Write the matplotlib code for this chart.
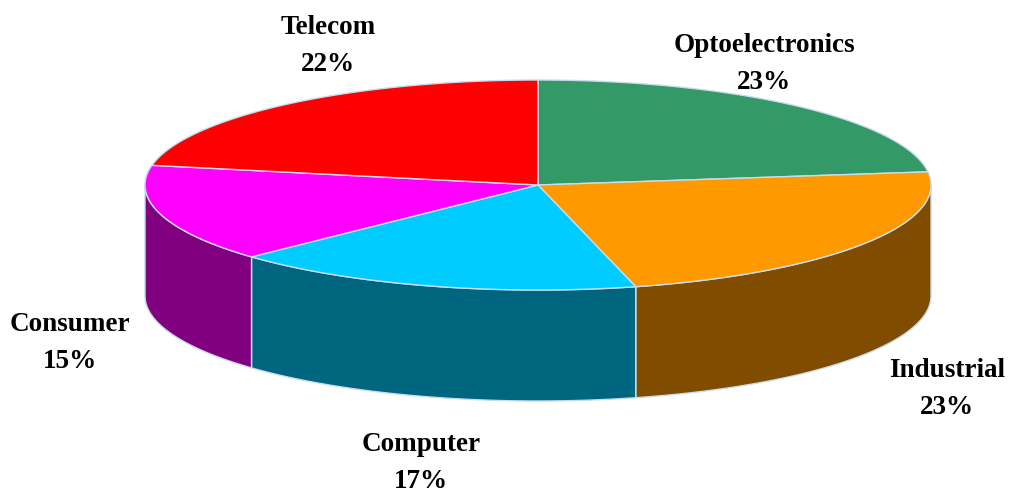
#!/usr/bin/env python3
import numpy as np
import matplotlib
matplotlib.use("Agg")
import matplotlib.pyplot as plt
from matplotlib.patches import Polygon

labels = ['Optoelectronics', 'Industrial', 'Computer', 'Consumer', 'Telecom']
sizes = [23, 23, 17, 15, 22]
colors = ['#339966', '#FF9900', '#00CCFF', '#FF00FF', '#FF0000']
# label anchor (x, y) in pixels, centre of the two-line block
label_pos = [(764, 64), (947, 389), (421, 463), (70, 343), (328, 46)]

cx, cy = 538, 185      # centre of top ellipse
a, b = 393, 105        # semi axes
depth = 111
edge = '#C8DCF0'


def darker(c):
    rgb = np.array(matplotlib.colors.to_rgb(c))
    return tuple(rgb * 0.5)


def pt(theta, dy=0):
    # theta in degrees, clockwise from 12 o'clock
    t = np.radians(theta)
    return cx + a * np.sin(t), cy - b * np.cos(t) + dy


fig = plt.figure(figsize=(10.11, 4.93), dpi=100)
ax = fig.add_axes([0, 0, 1, 1])
ax.set_xlim(0, 1011)
ax.set_ylim(493, 0)
ax.axis('off')

fracs = np.array(sizes) / sum(sizes)
bounds = np.concatenate([[0], np.cumsum(fracs) * 360])

# side walls (front half only: 90..270 deg)
for i in range(len(sizes)):
    t0, t1 = max(bounds[i], 90), min(bounds[i + 1], 270)
    if t1 <= t0:
        continue
    th = np.linspace(t0, t1, 100)
    top = [pt(t) for t in th]
    bot = [pt(t, depth) for t in th[::-1]]
    ax.add_patch(Polygon(top + bot, closed=True, facecolor=darker(colors[i]),
                         edgecolor=edge, linewidth=1))

# top wedges
for i in range(len(sizes)):
    th = np.linspace(bounds[i], bounds[i + 1], 200)
    verts = [(cx, cy)] + [pt(t) for t in th]
    ax.add_patch(Polygon(verts, closed=True, facecolor=colors[i],
                         edgecolor=edge, linewidth=1))

for lab, s, (x, y) in zip(labels, sizes, label_pos):
    ax.text(x, y, f'{lab}\n{s}%', ha='center', va='center',
            fontsize=19.5, fontweight='bold', family='Liberation Serif',
            linespacing=1.6)

plt.savefig('out.png', dpi=100)
